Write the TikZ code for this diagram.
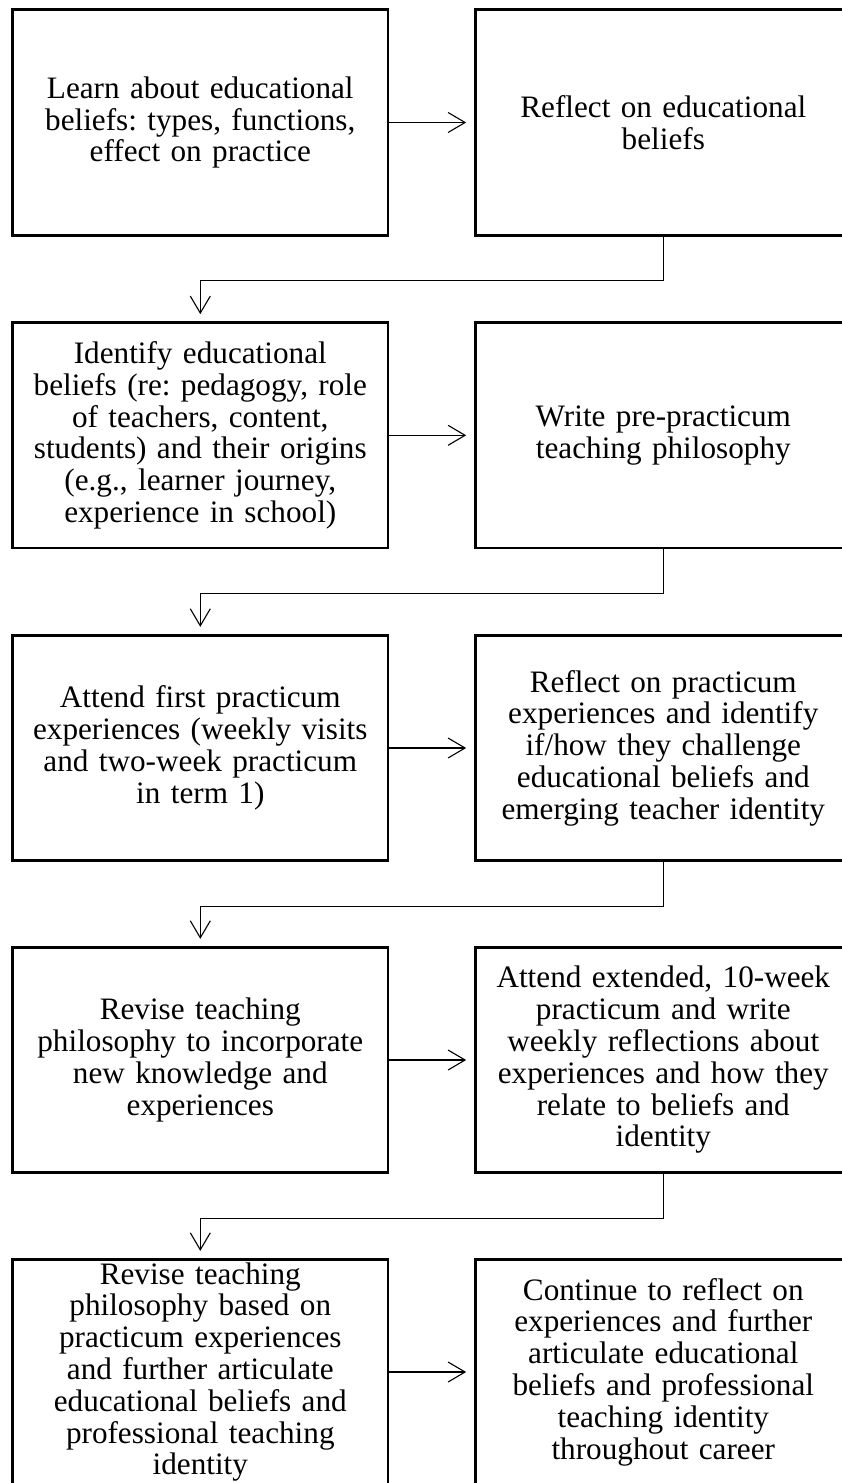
\documentclass[tikz,border=0pt]{standalone}
\usepackage{fontspec}
\setmainfont{Liberation Serif}
\frenchspacing
\usetikzlibrary{arrows.meta,calc}
\tikzset{
  box/.style={draw, line width=2.8pt, minimum width=375.5pt, minimum height=225.5pt,
    inner sep=0pt, text width=372pt, align=center,
    font=\fontsize{31.2pt}{31.8pt}\selectfont},
  arr/.style={line width=1.1pt, -{Straight Barb[length=17pt,width=20pt,line width=1.1pt]}},
  harr/.style={arr, shorten >=8pt},
  varr/.style={arr, shorten >=7pt},
}
\begin{document}
\begin{tikzpicture}[x=1pt,y=1pt]
\path[use as bounding box] (0,0) rectangle (842,-1483);
\clip (0,0) rectangle (842,-1483);
\node[box] (l1) at (200.3,-122.5) {Learn about educational\\beliefs: types, functions,\\effect on practice};
\node[box] (r1) at (663.3,-122.5) {Reflect on educational\\beliefs};
\node[box] (l2) at (200.3,-435.3) {Identify educational\\beliefs (re: pedagogy, role\\of teachers, content,\\students) and their origins\\(e.g., learner journey,\\experience in school)};
\node[box] (r2) at (663.3,-435.3) {Write pre-practicum\\teaching philosophy};
\node[box] (l3) at (200.3,-748) {Attend first practicum\\experiences (weekly visits\\and two-week practicum\\in term 1)};
\node[box] (r3) at (663.3,-748) {Reflect on practicum\\experiences and identify\\if/how they challenge\\educational beliefs and\\emerging teacher identity};
\node[box] (l4) at (200.3,-1060) {Revise teaching\\philosophy to incorporate\\new knowledge and\\experiences};
\node[box] (r4) at (663.3,-1060) {Attend extended, 10-week\\practicum and write\\weekly reflections about\\experiences and how they\\relate to beliefs and\\identity};
\node[box] (l5) at (200.3,-1372) {Revise teaching\\philosophy based on\\practicum experiences\\and further articulate\\educational beliefs and\\professional teaching\\identity};
\node[box] (r5) at (663.3,-1372) {Continue to reflect on\\experiences and further\\articulate educational\\beliefs and professional\\teaching identity\\throughout career};
\foreach \i in {1,...,5}{
  \draw[harr] (l\i.east) -- (r\i.west);
}
\foreach \i/\j in {1/2,2/3,3/4,4/5}{
  \draw[varr] (r\i.south) -- ++(0,-44) -| (l\j.north);
}
\end{tikzpicture}
\end{document}
